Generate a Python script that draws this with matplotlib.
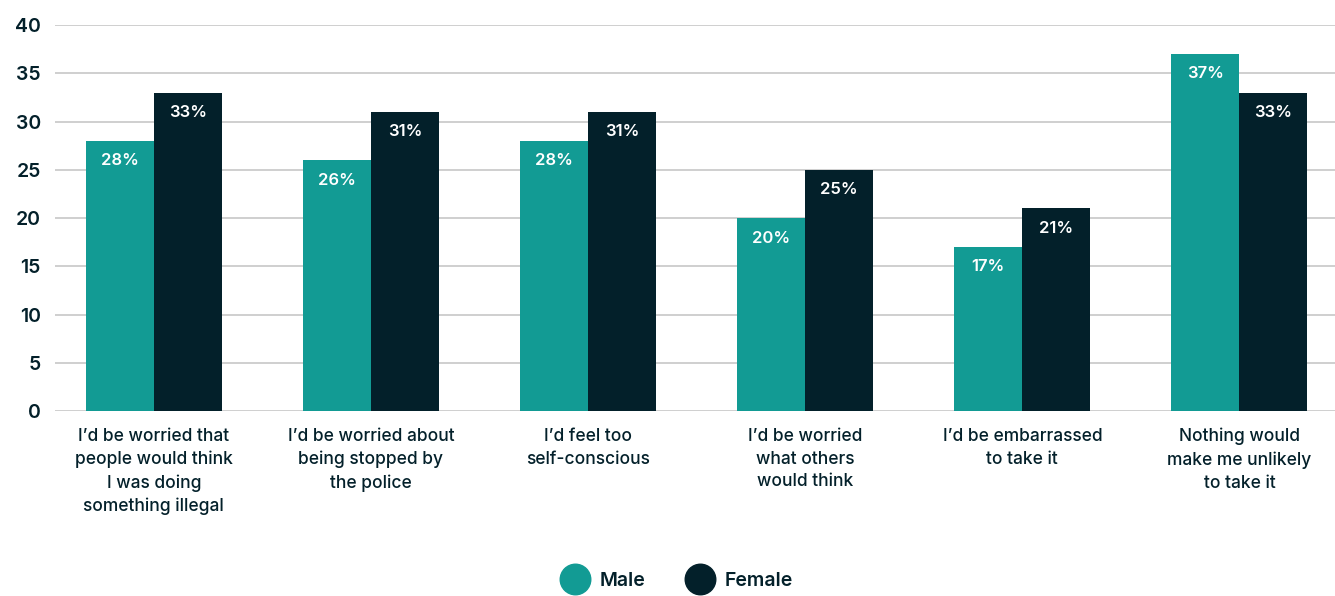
import numpy as np
import matplotlib
matplotlib.use('Agg')
import matplotlib.pyplot as plt
from matplotlib.lines import Line2D

categories = [
    "I\u2019d be worried that\npeople would think\nI was doing\nsomething illegal",
    "I\u2019d be worried about\nbeing stopped by\nthe police",
    "I\u2019d feel too\nself-conscious",
    "I\u2019d be worried\nwhat others\nwould think",
    "I\u2019d be embarrassed\nto take it",
    "Nothing would\nmake me unlikely\nto take it",
]
male = [28, 26, 28, 20, 17, 37]
female = [33, 31, 31, 25, 21, 33]
series_names = ["Male", "Female"]

TEAL = '#129b94'
DARK = '#03202a'
GRID = '#cfcfcf'

plt.rcParams['font.family'] = ['Inter', 'DejaVu Sans']

fig = plt.figure(figsize=(13.35, 5.96), dpi=100)
ax = fig.add_axes([0.041, 0.3104, 0.959, 0.6476])

x = np.arange(len(categories))
w = 0.313
bm = ax.bar(x - w/2, male, w, color=TEAL, zorder=3)
bf = ax.bar(x + w/2, female, w, color=DARK, zorder=3)

# value labels just inside the top of each bar
for bars, vals in ((bm, male), (bf, female)):
    for b, v in zip(bars, vals):
        ax.annotate("%d%%" % v, (b.get_x() + b.get_width()/2, v),
                    xytext=(0, -20), textcoords='offset pixels',
                    ha='center', va='center', color='white',
                    fontsize=12, fontweight='semibold', zorder=4)

ax.set_xlim(-0.456, 5.44)
ax.set_ylim(0, 40)
ax.set_yticks(range(0, 41, 5))
ax.yaxis.grid(True, color=GRID, linewidth=1.4, zorder=0)
ax.set_axisbelow(True)
for s in ax.spines.values():
    s.set_visible(False)
ax.tick_params(axis='y', length=0, pad=10, labelsize=14, labelcolor=DARK)
for t in ax.get_yticklabels():
    t.set_fontweight('semibold')
ax.set_xticks(x)
ax.set_xticklabels(categories, fontsize=12.5, color=DARK, fontweight='medium',
                   linespacing=1.45, va='top')
ax.tick_params(axis='x', length=0, pad=12)

handles = [Line2D([], [], marker='o', linestyle='', markersize=22, color=c)
           for c in (TEAL, DARK)]
fig.legend(handles, series_names, loc='center', bbox_to_anchor=(0.505, 0.025),
           ncol=2, frameon=False, handletextpad=0.25, columnspacing=1.8,
           labelcolor=DARK, prop={'weight': 'semibold', 'size': 14})

fig.savefig('out.png', dpi=100)
